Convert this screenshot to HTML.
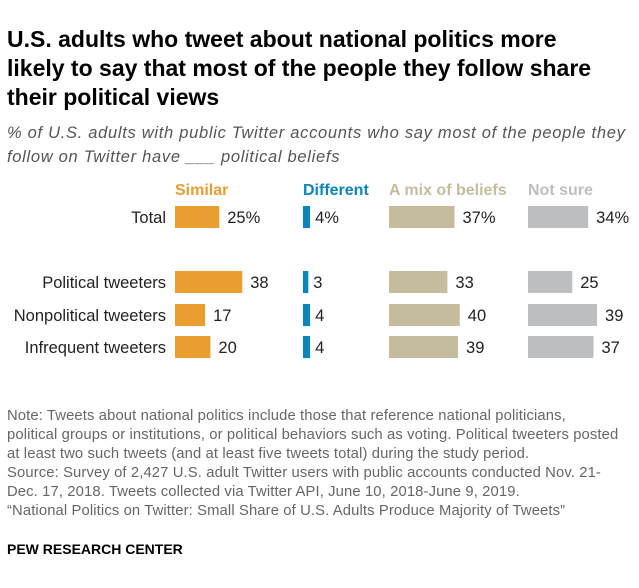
<!DOCTYPE html>
<html><head><meta charset="utf-8"><style>
body{margin:0;background:#fff;font-family:"Liberation Sans",sans-serif;}
#c{position:relative;width:639px;height:588px;overflow:hidden;}
.t{position:absolute;white-space:nowrap;}
</style></head><body>
<div id="c">
<div class="t" style="left:7px;top:25px;font-size:23px;font-weight:bold;line-height:29px;color:#000;">U.S. adults who tweet about national politics more<br>likely to say that most of the people they follow share<br>their political views</div>
<div class="t" style="left:7px;top:121px;font-size:16.5px;letter-spacing:0.7px;font-style:italic;line-height:24px;color:#555;">% of U.S. adults with public Twitter accounts who say most of the people they<br>follow on Twitter have ___ political beliefs</div>
<svg id="s" width="639" height="380" style="position:absolute;left:0;top:0"></svg>
<div class="t" style="left:7px;top:407px;font-size:14.8px;letter-spacing:0.12px;line-height:19px;color:#666;">Note: Tweets about national politics include those that reference national politicians,<br>political groups or institutions, or political behaviors such as voting. Political tweeters posted<br>at least two such tweets (and at least five tweets total) during the study period.<br>Source: Survey of 2,427 U.S. adult Twitter users with public accounts conducted Nov. 21-<br>Dec. 17, 2018. Tweets collected via Twitter API, June 10, 2018-June 9, 2019.<br>“National Politics on Twitter: Small Share of U.S. Adults Produce Majority of Tweets”</div>
<div class="t" style="left:7px;top:541px;font-size:14px;font-weight:bold;color:#000;">PEW RESEARCH CENTER</div>
</div>
<script>
const categories=["Total","Political tweeters","Nonpolitical tweeters","Infrequent tweeters"];
const seriesNames=["Similar","Different","A mix of beliefs","Not sure"];
const similar=[25,38,17,20];
const different=[4,3,4,4];
const mix=[37,33,40,39];
const notSure=[34,25,39,37];
const series=[similar,different,mix,notSure];
const colors=["#EA9E2F","#0B86BA","#C5BC9D","#BDBEC0"];
const starts=[175,303,389,528];
const rowY=[217,282,315,347];
const k=1.77;
const svg=document.getElementById('s');
const NS="http://www.w3.org/2000/svg";
function x(v){return v*k;}
function mk(tag,a){const e=document.createElementNS(NS,tag);for(const n in a)e.setAttribute(n,a[n]);svg.appendChild(e);return e;}
seriesNames.forEach((n,j)=>{
 const t=mk('text',{x:starts[j],y:195,'font-size':16,'font-weight':'bold',fill:colors[j],'font-family':'Liberation Sans'});
 t.textContent=n;
 
 
});
categories.forEach((c,i)=>{
 const t=mk('text',{x:166,y:rowY[i]+6,'font-size':16.5,'text-anchor':'end',fill:'#222','font-family':'Liberation Sans'});
 t.textContent=c;
 
 
 series.forEach((s,j)=>{
  const w=x(s[i]);
  const r=mk('rect',{x:starts[j],y:rowY[i]-11,width:w,height:22,fill:colors[j]});
  
  
  const l=mk('text',{x:starts[j]+w+(j==1?5:8),y:rowY[i]+6,'font-size':16.5,fill:'#222','font-family':'Liberation Sans'});
  l.textContent=s[i]+(i==0?'%':'');
  
  
 });
});
</script>
</body></html>
